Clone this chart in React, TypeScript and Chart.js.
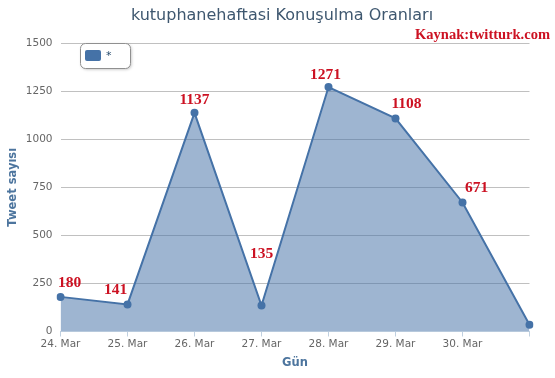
import React, { useEffect, useRef } from 'react';
import { Chart, registerables } from 'chart.js';

Chart.register(...registerables);

const chartTitle = 'kutuphanehaftasi Konuşulma Oranları';
const sourceText = 'Kaynak:twitturk.com';
const seriesName = '*';
const yAxisTitle = 'Tweet sayısı';
const xAxisTitle = 'Gün';
const dates = ['24. Mar', '25. Mar', '26. Mar', '27. Mar', '28. Mar', '29. Mar', '30. Mar', '31. Mar'];
const shownDateLabels = ['24. Mar', '25. Mar', '26. Mar', '27. Mar', '28. Mar', '29. Mar', '30. Mar', ''];
const tweetCounts = [180, 141, 1137, 135, 1271, 1108, 671, 35];
const valueLabels = ['180', '141', '1137', '135', '1271', '1108', '671', ''];
const yTicks = [0, 250, 500, 750, 1000, 1250, 1500];

// label placement (style only)
const labelDx = [9, -12, 0, 0, -3, 11, 14, 0];
const labelDy = [-14, -14, -13, -52, -12, -14, -14, 0];

const overlayPlugin = {
  id: 'overlay',
  afterDatasetsDraw(chart: any) {
    const ctx = chart.ctx;
    const meta = chart.getDatasetMeta(0);
    ctx.save();
    ctx.font = 'bold 15.5px "Liberation Serif", "Times New Roman", serif';
    ctx.fillStyle = '#cc1122';
    ctx.textAlign = 'center';
    ctx.textBaseline = 'middle';
    meta.data.forEach((pt: any, i: number) => {
      const t = valueLabels[i];
      if (!t) return;
      ctx.fillText(t, pt.x + labelDx[i], pt.y + labelDy[i]);
    });
    ctx.restore();
  },
  afterDraw(chart: any) {
    const ctx = chart.ctx;
    ctx.save();
    ctx.font = '16px "DejaVu Sans", sans-serif';
    ctx.fillStyle = '#3E576F';
    ctx.textAlign = 'center';
    ctx.textBaseline = 'middle';
    ctx.fillText(chartTitle, 282, 16);
    ctx.font = 'bold 14.5px "Liberation Serif", "Times New Roman", serif';
    ctx.fillStyle = '#cc1122';
    ctx.textAlign = 'right';
    ctx.fillText(sourceText, 550, 35);
    ctx.save();
    ctx.shadowColor = 'rgba(0,0,0,0.25)';
    ctx.shadowOffsetX = 1;
    ctx.shadowOffsetY = 1;
    ctx.shadowBlur = 3;
    ctx.fillStyle = '#ffffff';
    ctx.beginPath();
    ctx.roundRect(80.5, 43.5, 50, 25, 5);
    ctx.fill();
    ctx.restore();
    ctx.strokeStyle = '#909090';
    ctx.lineWidth = 1;
    ctx.beginPath();
    ctx.roundRect(80.5, 43.5, 50, 25, 5);
    ctx.stroke();
    ctx.fillStyle = '#4572A7';
    ctx.beginPath();
    ctx.roundRect(85, 50, 16, 11, 2);
    ctx.fill();
    ctx.font = '11px "DejaVu Sans", sans-serif';
    ctx.fillStyle = '#274b6d';
    ctx.textAlign = 'left';
    ctx.textBaseline = 'middle';
    ctx.fillText(seriesName, 106, 56);
    ctx.restore();
  },
};

export default function App() {
  const ref = useRef<HTMLCanvasElement>(null);
  useEffect(() => {
    document.body.style.margin = '0';
    const chart = new Chart(ref.current!, {
      type: 'line',
      data: {
        labels: dates,
        datasets: [
          {
            label: seriesName,
            data: tweetCounts,
            borderColor: '#4572A7',
            backgroundColor: 'rgba(69,114,167,0.52)',
            borderWidth: 2,
            fill: 'origin',
            tension: 0,
            pointRadius: 4,
            pointBackgroundColor: '#4572A7',
            pointBorderWidth: 0,
          },
        ],
      },
      options: {
        responsive: false,
        animation: false,
        events: [],
        layout: { padding: { top: 43, right: 25.5, left: 0, bottom: 0 } },
        plugins: {
          legend: { display: false },
          title: { display: false },
          tooltip: { enabled: false },
        },
        scales: {
          x: {
            type: 'category',
            offset: false,
            afterFit: (s: any) => {
              s.height = 46.5;
            },
            grid: {
              drawOnChartArea: false,
              drawTicks: true,
              tickLength: 5,
              color: '#C0D0E0',
            },
            border: { display: true, color: '#C0D0E0', width: 1 },
            ticks: {
              autoSkip: false,
              maxRotation: 0,
              padding: 1,
              color: '#666666',
              font: { family: '"DejaVu Sans", sans-serif', size: 10.5 },
              callback: (_v: any, i: number) => shownDateLabels[i],
            },
            title: {
              display: true,
              text: xAxisTitle,
              color: '#4d759e',
              font: { family: '"DejaVu Sans", sans-serif', size: 11.5, weight: 'bold' },
              padding: { top: 0, bottom: 8 },
            },
          },
          y: {
            min: 0,
            max: 1500,
            afterFit: (s: any) => {
              s.width = 60.5;
            },
            afterBuildTicks: (s: any) => {
              s.ticks = yTicks.map((v) => ({ value: v }));
            },
            grid: {
              drawTicks: false,
              color: '#C0C0C0',
              lineWidth: 1,
            },
            border: { display: false },
            ticks: {
              padding: 8,
              color: '#666666',
              font: { family: '"DejaVu Sans", sans-serif', size: 10.5 },
              callback: (v: any) => String(v),
            },
            title: {
              display: true,
              text: yAxisTitle,
              color: '#4d759e',
              font: { family: '"DejaVu Sans", sans-serif', size: 11.5, weight: 'bold' },
              padding: { top: 6, bottom: 0 },
            },
          },
        },
      },
      plugins: [overlayPlugin],
    });
    return () => chart.destroy();
  }, []);
  return (
    <div style={{ width: 555, height: 378 }}>
      <canvas ref={ref} width={555} height={378} style={{ display: 'block', width: 555, height: 378 }} />
    </div>
  );
}
